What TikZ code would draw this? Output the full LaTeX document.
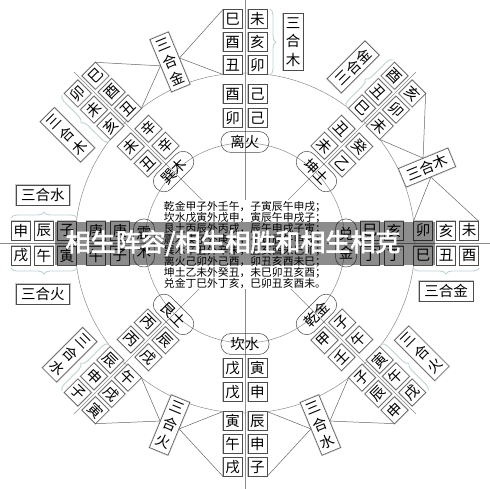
\documentclass[tikz,border=0pt]{standalone}
\usepackage{fontspec}
\newfontfamily\cjk{Noto Sans CJK SC}
\newfontfamily\cjkbanner{Noto Sans CJK SC}[FakeBold=2.5]
\usetikzlibrary{decorations.pathreplacing}
\definecolor{bracecol}{RGB}{190,212,214}
\newcommand\cellfont{\cjk\fontsize{14.5}{14.5}\selectfont}
\newcommand{\innerpairs}[6]{%
  \node[cell,rotate=#2] (#1-ili) at (-12.5,125) {#3};
  \node[cell,rotate=#2] (#1-ilo) at (-12.5,149) {#4};
  \node[cell,rotate=#2] (#1-iri) at (12.5,125) {#5};
  \node[cell,rotate=#2] (#1-iro) at (12.5,149) {#6};
}
\newcommand{\outerblock}[8]{%
  \node[cell,rotate=#2] (#1-L1) at (-12.5,178) {#3};
  \node[cell,rotate=#2] (#1-L2) at (-12.5,201) {#4};
  \node[cell,rotate=#2] (#1-L3) at (-12.5,224) {#5};
  \node[cell,rotate=#2] (#1-R1) at (12.5,178) {#6};
  \node[cell,rotate=#2] (#1-R2) at (12.5,201) {#7};
  \node[cell,rotate=#2] (#1-R3) at (12.5,224) {#8};
  \coordinate (#1-Lin) at (-22,168.5);
  \coordinate (#1-Lout) at (-22,233.5);
  \coordinate (#1-Rin) at (22,168.5);
  \coordinate (#1-Rout) at (22,233.5);
}
\begin{document}
\begin{tikzpicture}[x=1pt,y=1pt,
  cell/.style={draw=black!70, line width=0.5pt, fill=white, minimum width=19pt, minimum height=19pt, inner sep=0pt, font=\cellfont, preaction={draw=black!22, line width=1.8pt}},
  oval/.style={draw=black!70, line width=0.5pt, rounded corners=10pt, minimum width=48pt, minimum height=21pt, inner sep=0pt, font=\cellfont},
  ovalv/.style={draw=black!70, line width=0.5pt, rounded corners=10pt, minimum width=21pt, minimum height=48pt, inner sep=0pt, align=center, font=\cjk\fontsize{14.5}{19}\selectfont},
  labh/.style={draw=black!70, fill=white, line width=0.5pt, minimum height=20pt, inner xsep=5pt, inner ysep=0pt, font=\cellfont, preaction={draw=black!22, line width=1.8pt}},
  labv/.style={draw=black!70, fill=white, line width=0.5pt, minimum width=20pt, inner xsep=0pt, inner ysep=4pt, align=center, font=\cjk\fontsize{14.5}{18.5}\selectfont, preaction={draw=black!22, line width=1.8pt}},
  brc/.style={decorate, decoration={brace, amplitude=6pt}, draw=bracecol, line width=0.9pt},
  guide/.style={draw=black!45, line width=0.5pt},
  conn/.style={draw=black!60, line width=0.5pt}]
\fill[white] (-245,-246) rectangle (245,243);
\useasboundingbox (-245,-246) rectangle (245,243);
\coordinate (O) at (0,0);
% circles and spokes
\draw[guide] (O) circle (100);
\draw[guide] (O) circle (170);
\foreach \a in {0,90,180,270} \draw[guide] (O) -- (\a:246);
\foreach \a in {45,135,225,315} \draw[guide] (O) -- (\a:242);
% N
\begin{scope}[rotate=0]
 \node[oval] (N-oval) at (0,101) {离火};
 \innerpairs{N}{0}{卯}{酉}{己}{己}
 \outerblock{N}{0}{丑}{酉}{巳}{卯}{亥}{未}
 \draw[brc] (25,234) -- (25,168);
 \node[labv] (N-lab) at (48,201) {三\\合\\木};
\end{scope}
% NE
\begin{scope}[rotate=-45]
 \node[oval,rotate=-45] (NE-oval) at (0,101) {坤土};
 \innerpairs{NE}{-45}{未}{丑}{乙}{癸}
 \outerblock{NE}{-45}{巳}{丑}{酉}{未}{卯}{亥}
 \draw[brc] (-25,168) -- (-25,234);
 \node[labh,rotate=45] (NE-lab) at (-48,201) {三合金};
\end{scope}
% E
\begin{scope}[rotate=-90]
 \node[ovalv] (E-oval) at (0,101) {兑\\金};
 \innerpairs{E}{0}{巳}{亥}{丁}{丁}
 \outerblock{E}{0}{卯}{亥}{未}{巳}{丑}{酉}
 \draw[brc] (25,234) -- (25,168);
 \node[labh] (E-lab) at (48,201) {三合金};
\end{scope}
% SE
\begin{scope}[rotate=-135]
 \node[oval,rotate=45] (SE-oval) at (0,101) {乾金};
 \innerpairs{SE}{45}{子}{午}{甲}{壬}
 \outerblock{SE}{45}{寅}{午}{戌}{子}{辰}{申}
 \draw[brc] (-25,168) -- (-25,234);
 \node[labv,rotate=45] (SE-lab) at (-47,203) {三\\合\\火};
\end{scope}
% S
\begin{scope}[rotate=180]
 \node[oval] (S-oval) at (0,101) {坎水};
 \innerpairs{S}{0}{寅}{申}{戊}{戊}
 \outerblock{S}{0}{辰}{申}{子}{寅}{午}{戌}
\end{scope}
% SW
\begin{scope}[rotate=135]
 \node[oval,rotate=-45] (SW-oval) at (0,101) {艮土};
 \innerpairs{SW}{-45}{辰}{戌}{丙}{丙}
 \outerblock{SW}{-45}{午}{戌}{寅}{辰}{申}{子}
 \draw[brc] (25,234) -- (25,168);
 \node[labv,rotate=-45] (SW-lab) at (45,203) {三\\合\\水};
\end{scope}
% W
\begin{scope}[rotate=90]
 \node[ovalv] (W-oval) at (0,101) {震\\木};
 \innerpairs{W}{0}{子}{午}{庚}{庚}
 \outerblock{W}{0}{寅}{午}{戌}{子}{辰}{申}
 \draw[brc] (25,234) -- (25,168);
 \draw[brc] (-25,168) -- (-25,234);
 \node[labh] (W-labR) at (48,202) {三合水};
 \node[labh] (W-labL) at (-51,202) {三合火};
\end{scope}
% NW
\begin{scope}[rotate=45]
 \node[oval,rotate=45] (NW-oval) at (0,101) {巽木};
 \innerpairs{NW}{45}{丑}{未}{辛}{辛}
 \outerblock{NW}{45}{亥}{未}{卯}{丑}{酉}{巳}
 \draw[brc] (-25,168) -- (-25,234);
 \node[labv,rotate=45] (NW-lab) at (-49,202) {三\\合\\木};
\end{scope}
% shared labels
\node[labv,rotate=22.5] (A) at (112.5:196) {三\\合\\金};
\node[labh,rotate=22.5] (B) at (22.5:197) {三合木};
\node[labv,rotate=22.5] (C) at (-67.5:197) {三\\合\\水};
\node[labv,rotate=-22.5] (D) at (-112.5:197) {三\\合\\火};
\draw[conn] (N-Lout) -- (A.east) -- (N-Lin);
\draw[conn] (NW-Rout) -- (A.west) -- (NW-Rin);
\draw[conn] (E-Lin) -- (B.south) -- (E-Lout);
\draw[conn] (NE-Rout) -- (B.north) -- (NE-Rin);
\draw[conn] (S-Lin) -- (C.west) -- (S-Lout);
\draw[conn] (SE-Rin) -- (C.east) -- (SE-Rout);
\draw[conn] (S-Rin) -- (D.east) -- (S-Rout);
\draw[conn] (SW-Lin) -- (D.west) -- (SW-Lout);
% central text
\node[fill=white, inner sep=1pt, align=left, font=\cjk\fontsize{10.8}{11}\selectfont] (txt) at (0,-1.5) {乾金甲子外壬午，子寅辰午申戌；\\坎水戊寅外戊申，寅辰午申戌子；\\艮土丙辰外丙戌，辰午申戌子寅；\\震木庚子外庚午，子寅辰午申戌；\\巽木辛丑外辛未，丑亥酉未巳卯；\\离火己卯外己酉，卯丑亥酉未巳；\\坤土乙未外癸丑，未巳卯丑亥酉；\\兑金丁巳外丁亥，巳卯丑亥酉未。};
% banner
\fill[black, opacity=0.45] (-190,21) rectangle (190,-22);
\node[text=white, inner sep=0pt, font=\cjkbanner\fontsize{25}{25}\selectfont] (banner) at (-12,0) {相生阵容/相生相胜和相生相克};
\end{tikzpicture}
\end{document}
